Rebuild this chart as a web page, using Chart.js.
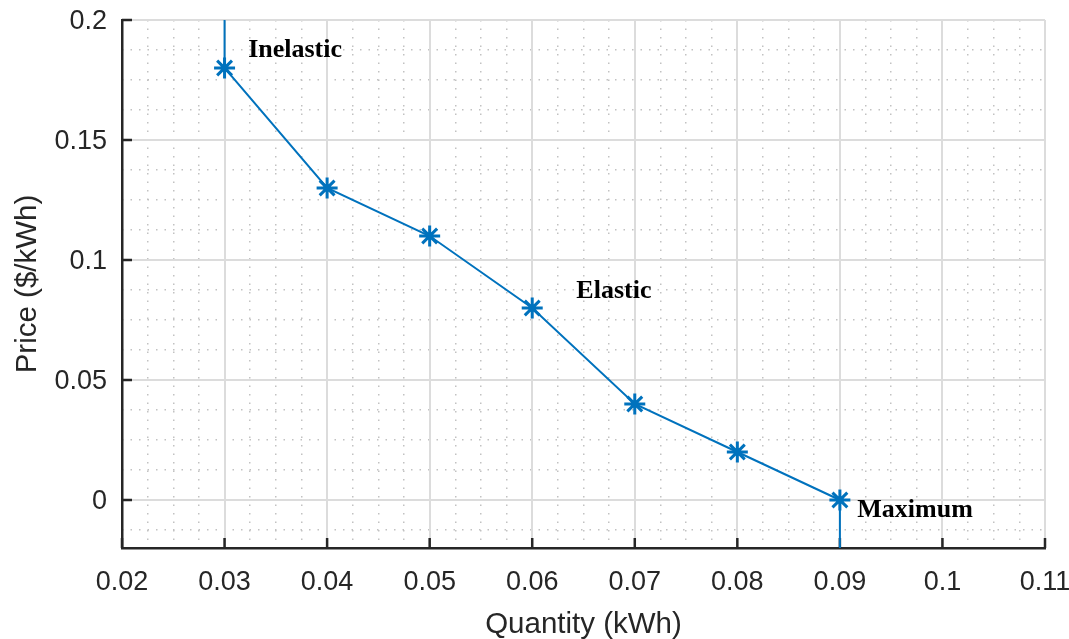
<!DOCTYPE html>
<html lang="en">
	<head>
		<meta charset="UTF-8" />
		<title>Price vs Quantity</title>
		<script src="https://cdn.jsdelivr.net/npm/chart.js@4.4.1/dist/chart.umd.min.js"></script>
		<style>
			body { margin: 0; background: #fff; }
		</style>
	</head>
	<body>
		<canvas id="myChart" width="1069" height="639"></canvas>

		<script>
			// demand curve: quantity (kWh) vs price ($/kWh)
			const quantity = [0.03, 0.03, 0.04, 0.05, 0.06, 0.07, 0.08, 0.09, 0.09];
			const price = [0.2, 0.18, 0.13, 0.11, 0.08, 0.04, 0.02, 0, -0.02];
			const hasMarker = [false, true, true, true, true, true, true, true, false];

			const xTicks = [0.02, 0.03, 0.04, 0.05, 0.06, 0.07, 0.08, 0.09, 0.1, 0.11];
			const yTicks = [0, 0.05, 0.1, 0.15, 0.2];

			const noteText = ["Inelastic", "Elastic", "Maximum"];
			const noteX = [0.0323, 0.0643, 0.0917];
			const noteY = [0.1875, 0.0871, -0.0042];

			const fmt = (v) => String(+v.toFixed(4));
			const isMajor = (v, step) => Math.abs(v / step - Math.round(v / step)) < 1e-6;

			const tickFont = { family: "'Liberation Sans', Arial, sans-serif", size: 27 };
			const titleFont = { family: "'Liberation Sans', Arial, sans-serif", size: 29.5 };

			// short inward tick marks on the two visible axes
			const innerTicks = {
				id: "innerTicks",
				beforeDatasetsDraw(chart) {
					const { ctx, chartArea: a, scales } = chart;
					ctx.save();
					ctx.strokeStyle = "#262626";
					ctx.lineWidth = 2.5;
					ctx.beginPath();
					scales.x.ticks.forEach((t) => {
						const px = scales.x.getPixelForValue(t.value);
						ctx.moveTo(px, a.bottom);
						ctx.lineTo(px, a.bottom - 10);
					});
					scales.y.ticks.forEach((t) => {
						const py = scales.y.getPixelForValue(t.value);
						ctx.moveTo(a.left, py);
						ctx.lineTo(a.left + 10, py);
					});
					ctx.stroke();
					ctx.restore();
				},
			};

			// text notes placed in data coordinates
			const notes = {
				id: "notes",
				afterDatasetsDraw(chart) {
					const { ctx, scales } = chart;
					ctx.save();
					ctx.fillStyle = "#000";
					ctx.font = "bold 26px 'Liberation Serif', 'Times New Roman', serif";
					ctx.textAlign = "left";
					ctx.textBaseline = "middle";
					noteText.forEach((t, i) => {
						ctx.fillText(t, scales.x.getPixelForValue(noteX[i]), scales.y.getPixelForValue(noteY[i]));
					});
					ctx.restore();
				},
			};

			const ctx = document.getElementById("myChart").getContext("2d");

			new Chart(ctx, {
				type: "scatter",
				data: {
					datasets: [
						{
							data: quantity.map((q, i) => ({ x: q, y: price[i] })),
							showLine: true,
							borderColor: "#0072BD",
							backgroundColor: "#0072BD",
							borderWidth: 2,
							pointStyle: "star",
							pointRadius: hasMarker.map((m) => (m ? 10.5 : 0)),
							pointBorderWidth: 3,
							pointBorderColor: "#0072BD",
						},
					],
				},
				options: {
					responsive: false,
					animation: false,
					events: [],
					layout: { padding: { top: 20, right: 24, left: 0, bottom: 0 } },
					plugins: { legend: { display: false }, tooltip: { enabled: false } },
					scales: {
						xm: {
							type: "linear",
							position: "bottom",
							min: 0.02,
							max: 0.11,
							ticks: { display: false, stepSize: 0.0025, includeBounds: false },
							grid: {
								drawTicks: false,
								lineWidth: 1.5,
								color: (c) => (isMajor(c.tick.value, 0.01) ? "transparent" : "#c2c2c2"),
							},
							border: { display: false, dash: [1.5, 7] },
							afterFit: (s) => {
								s.height = 0;
								s.paddingLeft = s.paddingRight = 0;
							},
						},
						ym: {
							type: "linear",
							position: "left",
							min: -0.02,
							max: 0.2,
							ticks: { display: false, stepSize: 0.0125, includeBounds: false },
							grid: {
								drawTicks: false,
								lineWidth: 1.5,
								color: (c) => (isMajor(c.tick.value, 0.05) ? "transparent" : "#c2c2c2"),
							},
							border: { display: false, dash: [1.5, 7] },
							afterFit: (s) => {
								s.width = 0;
								s.paddingTop = s.paddingBottom = 0;
							},
						},
						x: {
							type: "linear",
							position: "bottom",
							min: 0.02,
							max: 0.11,
							afterBuildTicks: (s) => {
								s.ticks = xTicks.map((v) => ({ value: v }));
							},
							ticks: { font: tickFont, color: "#262626", padding: 18, maxRotation: 0, callback: fmt },
							grid: { drawTicks: false, color: "#dcdcdc", lineWidth: 2 },
							border: { color: "#262626", width: 2.5 },
							title: {
								display: true,
								text: "Quantity (kWh)",
								font: titleFont,
								color: "#262626",
								padding: { top: 0, bottom: -4 },
							},
							afterFit: (s) => {
								s.height = 91;
								s.paddingLeft = s.paddingRight = 0;
							},
						},
						y: {
							type: "linear",
							position: "left",
							min: -0.02,
							max: 0.2,
							afterBuildTicks: (s) => {
								s.ticks = yTicks.map((v) => ({ value: v }));
							},
							ticks: { font: tickFont, color: "#262626", padding: 15, labelOffset: 2, callback: fmt },
							grid: { drawTicks: false, color: "#dcdcdc", lineWidth: 2 },
							border: { color: "#262626", width: 2.5 },
							title: {
								display: true,
								text: "Price ($/kWh)",
								font: titleFont,
								color: "#262626",
								padding: { top: 10, bottom: 0 },
							},
							afterFit: (s) => {
								s.width = 122;
								s.paddingTop = s.paddingBottom = 0;
							},
						},
					},
				},
				plugins: [innerTicks, notes],
			});
		</script>
	</body>
</html>
